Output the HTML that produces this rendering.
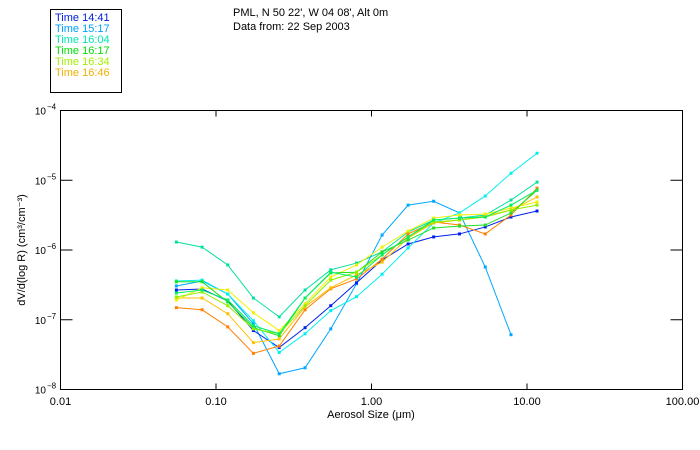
<!DOCTYPE html>
<html><head><meta charset="utf-8"><style>
body{margin:0;background:#fff;}
svg{display:block;font-family:"Liberation Sans",sans-serif;}
</style></head><body>
<svg id="chart" width="700" height="450" viewBox="0 0 700 450">
<rect x="0" y="0" width="700" height="450" fill="#fff"/>
<g font-size="11" fill="#000">
<text x="233" y="16">PML, N 50 22', W 04 08', Alt 0m</text>
<text x="233" y="30">Data from: 22 Sep 2003</text>
</g>
<rect x="50.5" y="9.5" width="71" height="83" fill="none" stroke="#000"/>
<g id="legend" font-size="11"></g>
<rect x="60.5" y="110.5" width="622" height="279" fill="none" stroke="#000"/>
<g id="axes"></g>
<g id="series"></g>
<text x="371" y="418" font-size="11" text-anchor="middle">Aerosol Size (μm)</text>
<text transform="translate(25,250) rotate(-90)" font-size="11" text-anchor="middle">dV/d(log R) (cm³/cm⁻³)</text>
</svg>
<script>
const sizes = [0.0556,0.0814,0.119,0.174,0.255,0.374,0.547,0.801,1.17,1.72,2.51,3.68,5.39,7.89,11.6];
const seriesA = [1.30e-6,1.10e-6,6.1e-7,2.05e-7,1.10e-7,2.67e-7,5.2e-7,6.5e-7,9.4e-7,1.81e-6,2.69e-6,2.87e-6,3.17e-6,5.2e-6,9.4e-6];
const seriesB = [3.05e-7,3.6e-7,2.34e-7,8.8e-8,1.68e-8,2.05e-8,7.4e-8,3.28e-7,1.64e-6,4.4e-6,5.0e-6,3.4e-6,5.7e-7,6.1e-8,null];
const seriesC = [2.67e-7,2.76e-7,1.86e-7,7.0e-8,4.0e-8,7.7e-8,1.59e-7,3.39e-7,7.2e-7,1.22e-6,1.54e-6,1.70e-6,2.14e-6,2.97e-6,3.62e-6];
const seriesD = [3.6e-7,3.7e-7,2.34e-7,9.7e-8,3.4e-8,6.3e-8,1.35e-7,2.14e-7,4.5e-7,1.07e-6,2.44e-6,3.4e-6,5.95e-6,1.26e-5,2.44e-5];
const seriesE = [1.49e-7,1.39e-7,7.9e-8,3.3e-8,4.2e-8,1.39e-7,2.78e-7,3.84e-7,7.4e-7,1.70e-6,2.52e-6,2.28e-6,1.70e-6,3.17e-6,7.7e-6];
const seriesF = [2.05e-7,2.05e-7,1.22e-7,4.7e-8,5.3e-8,1.54e-7,2.87e-7,4.4e-7,6.7e-7,1.49e-6,2.44e-6,2.69e-6,3.07e-6,3.74e-6,5.75e-6];
const seriesG = [1.92e-7,2.87e-7,2.67e-7,1.26e-7,7.0e-8,1.70e-7,4.1e-7,6.1e-7,1.10e-6,1.87e-6,2.87e-6,3.17e-6,3.27e-6,4.0e-6,4.88e-6];
const seriesH = [3.5e-7,3.5e-7,1.80e-7,7.7e-8,5.9e-8,2.05e-7,4.7e-7,4.8e-7,9.4e-7,1.39e-6,2.07e-6,2.2e-6,2.28e-6,3.4e-6,7.2e-6];
const seriesI = [2.12e-7,2.5e-7,1.59e-7,7.4e-8,6.3e-8,1.59e-7,3.7e-7,4.8e-7,8.5e-7,1.54e-6,2.52e-6,2.69e-6,2.97e-6,3.74e-6,4.4e-6];
const seriesJ = [2.42e-7,2.67e-7,1.92e-7,8.2e-8,6.3e-8,2.05e-7,4.8e-7,4.1e-7,8.5e-7,1.54e-6,2.69e-6,2.87e-6,2.97e-6,4.4e-6,7.2e-6];
const seriesColors = ["#00e0a0","#00a8ff","#0020f0","#00f0f0","#ff8000","#ffc000","#f0f000","#20e020","#90f000","#00f060"];
const legendLabels = ["Time 14:41","Time 15:17","Time 16:04","Time 16:17","Time 16:34","Time 16:46"];
const legendColors = ["#0020e0","#00a0ff","#00e8b0","#00e000","#a0f000","#f0b000"];
const xTickValues = [0.01,0.1,1,10,100];
const xTickLabels = ["0.01","0.10","1.00","10.00","100.00"];
const yTickExps = [-4,-5,-6,-7,-8];

const NS="http://www.w3.org/2000/svg";
const X0=60.5,X1=682.5,Y0=110.5,Y1=389.5;
function xs(v){return X0+(Math.log10(v)+2)/4*(X1-X0);}
function ys(v){return Y0+(-4-Math.log10(v))/4*(Y1-Y0);}
function mk(tag,attrs,parent){const e=document.createElementNS(NS,tag);for(const k in attrs)e.setAttribute(k,attrs[k]);parent.appendChild(e);return e;}

const axes=document.getElementById('axes');
xTickValues.forEach((v,i)=>{
  const x=xs(v);
  if(i>0&&i<xTickValues.length-1){
    const t=mk('line',{x1:x,x2:x,y1:Y1,y2:Y1-6,stroke:'#000'},axes);
    
    
    const t2=mk('line',{x1:x,x2:x,y1:Y0,y2:Y0+6,stroke:'#000'},axes);
    
    
  }
  const l=mk('text',{x:x,y:405,'font-size':11,'text-anchor':'middle'},axes);
  l.textContent=xTickLabels[i];
  
  
});
yTickExps.forEach((e,i)=>{
  const y=ys(Math.pow(10,e));
  if(i>0&&i<yTickExps.length-1){
    const t=mk('line',{x1:X0,x2:X0+12,y1:y,y2:y,stroke:'#000'},axes);
    
    
    const t2=mk('line',{x1:X1,x2:X1-12,y1:y,y2:y,stroke:'#000'},axes);
    
    
  }
  const l=mk('text',{x:46,y:y+4,'font-size':10,'text-anchor':'end'},axes);
  l.textContent='10';
  
  
  const s=mk('text',{x:47,y:y-1,'font-size':8},axes);
  s.textContent='−'+Math.abs(e);
  
  
});

const allSeries=[seriesA,seriesB,seriesC,seriesD,seriesE,seriesF,seriesG,seriesH,seriesI,seriesJ];
const sg=document.getElementById('series');
allSeries.forEach((vals,si)=>{
  const g=mk('g',{},sg);
  
  
  const pts=[];
  vals.forEach((v,i)=>{if(v!=null)pts.push([xs(sizes[i]),ys(v)]);});
  const pl=mk('polyline',{points:pts.map(p=>p.join(',')).join(' '),fill:'none',stroke:seriesColors[si],'stroke-width':1},g);
  
  
  pts.forEach(p=>{
    const r=mk('rect',{x:p[0]-1.5,y:p[1]-1.5,width:3,height:3,fill:seriesColors[si]},g);
    
    
  });
});

const lg=document.getElementById('legend');
legendLabels.forEach((t,i)=>{
  const e=mk('text',{x:55,y:21+i*11,fill:legendColors[i]},lg);
  e.textContent=t;
  
  
});
</script>
</body></html>
